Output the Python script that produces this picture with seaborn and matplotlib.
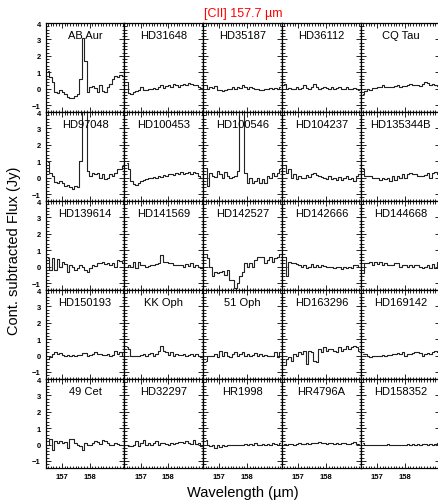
import numpy as np
import pandas as pd
import matplotlib
matplotlib.use("Agg")
import matplotlib.pyplot as plt
import seaborn as sns
from matplotlib.ticker import MultipleLocator, FixedLocator

sns.set_style("ticks")
plt.rcParams['font.family'] = ['Liberation Sans', 'DejaVu Sans']
plt.rcParams['text.color'] = 'black'
plt.rcParams['xtick.color'] = 'black'
plt.rcParams['ytick.color'] = 'black'

# wavelength grid (micron)
wave = [156.50, 156.59, 156.68, 156.77, 156.86, 156.95, 157.04, 157.13, 157.22, 157.31,
        157.40, 157.49, 157.58, 157.67, 157.76, 157.85, 157.94, 158.03, 158.12, 158.21,
        158.30, 158.39, 158.48, 158.57, 158.66, 158.75, 158.84, 158.93, 159.02, 159.11, 159.20]

names = ["AB Aur", "HD31648", "HD35187", "HD36112", "CQ Tau",
         "HD97048", "HD100453", "HD100546", "HD104237", "HD135344B",
         "HD139614", "HD141569", "HD142527", "HD142666", "HD144668",
         "HD150193", "KK Oph", "51 Oph", "HD163296", "HD169142",
         "49 Cet", "HD32297", "HR1998", "HR4796A", "HD158352"]

ab_aur = [1.1, 0.7, 0.4, -0.2, -0.25, -0.1, -0.2, -0.35, -0.5, -0.55, -0.6, -0.45, -0.3, 0.6, 3.1, 1.7,
          -0.2, 0.1, 0.15, 0.05, -0.2, 0.2, -0.15, -0.2, 0.1, 0.3, 0.6, 0.75, 0.7, 0.85, 0.75]
hd31648 = [0.4, -0.25, -0.3, -0.2, -0.15, -0.1, 0.1, -0.1, -0.1, -0.05, 0.0, 0.05, -0.05, 0.1, 0.2, 0.05,
           0.15, 0.25, 0.1, 0.3, 0.2, 0.1, 0.25, 0.3, 0.2, 0.35, 0.3, 0.25, 0.2, 0.1, 0.05]
hd35187 = [0.2, 0.0, 0.1, 0.05, 0.15, -0.1, -0.1, -0.15, -0.1, -0.05, 0.0, 0.1, -0.05, 0.1, 0.05, 0.2,
           0.1, 0.0, 0.1, 0.05, -0.05, 0.0, -0.1, -0.1, -0.05, -0.05, 0.05, -0.05, 0.05, 0.0, 0.1]
hd36112 = [0.3, 0.0, 0.05, -0.05, 0.0, 0.1, 0.0, 0.05, 0.25, 0.05, 0.0, 0.1, 0.3, 0.1, 0.0, 0.05,
           0.1, 0.05, 0.0, 0.1, -0.05, 0.05, 0.1, -0.05, 0.0, 0.1, 0.0, -0.05, 0.05, -0.05, -0.1]
cq_tau = [-0.3, -0.15, 0.0, -0.1, 0.05, 0.05, 0.1, 0.1, 0.2, 0.1, 0.1, 0.1, 0.1, 0.15, 0.25, 0.1,
          0.15, 0.15, 0.2, 0.3, 0.2, 0.25, 0.2, 0.15, 0.3, 0.4, 0.35, 0.2, 0.3, 0.25, 0.15]

hd97048 = [0.95, 0.3, 0.1, -0.25, -0.3, -0.2, -0.3, -0.5, -0.45, -0.6, -0.7, -0.5, -0.6, 1.0, 6.0, 5.0,
           0.4, 0.1, 0.3, 0.2, 0.3, 0.0, 0.2, -0.1, 0.0, 0.2, 0.1, 0.3, 0.5, 0.55, 0.7]
hd100453 = [0.9, 0.5, -0.2, -0.4, -0.45, -0.3, -0.2, -0.15, -0.1, 0.0, -0.05, 0.05, 0.0, 0.1, 0.05, 0.15,
            0.1, 0.2, 0.25, 0.15, 0.3, 0.2, 0.35, 0.25, 0.3, 0.35, 0.25, 0.35, 0.3, 0.1, 0.0]
hd100546 = [0.6, -0.5, 0.3, 0.1, 0.05, 0.4, 0.2, 0.0, 0.35, 0.1, 0.0, 0.05, 0.1, 0.4, 5.5, 4.8,
            0.3, -0.3, 0.0, -0.3, -0.2, 0.0, -0.3, -0.1, -0.3, 0.1, 0.0, 0.3, 0.1, 0.3, 0.5]
hd104237 = [0.8, 0.3, 0.5, 0.0, 0.2, -0.1, 0.1, 0.0, 0.0, 0.15, 0.05, 0.2, 0.3, 0.15, 0.1, 0.05,
            0.0, -0.1, 0.1, -0.1, 0.0, -0.15, 0.05, -0.15, 0.0, 0.1, -0.1, 0.0, -0.2, 0.1, 0.2]
hd135344b = [0.5, 0.1, 0.1, 0.1, 0.0, 0.0, -0.05, -0.15, 0.0, -0.1, 0.0, -0.2, 0.1, -0.15, 0.1, 0.0,
             0.2, 0.0, 0.2, 0.3, 0.2, 0.25, 0.1, 0.1, 0.1, 0.15, 0.3, 0.0, 0.3, 0.35, 0.25]

hd139614 = [0.5, -0.2, 0.5, -0.2, 0.45, 0.0, 0.3, 0.15, -0.3, 0.1, 0.0, -0.2, -0.1, 0.1, 0.0, -0.2,
            -0.3, -0.1, 0.1, 0.05, 0.25, 0.2, 0.3, 0.15, 0.2, 0.1, 0.2, 0.0, 0.4, 0.35, 0.2]
hd141569 = [0.0, 0.1, 0.0, 0.3, -0.1, 0.3, 0.1, 0.1, 0.0, 0.05, 0.1, 0.1, 0.15, 0.2, 0.7, 0.3,
            0.3, 0.2, 0.2, 0.1, 0.1, 0.1, 0.1, 0.0, 0.15, 0.05, 0.2, 0.0, 0.1, 0.0, -0.1]
hd142527 = [0.8, 0.5, 0.0, -0.6, -0.3, -0.4, -0.3, -0.25, -0.5, -0.2, -0.8, -0.8, -1.3, -1.0, -0.6, -0.3,
            0.2, 0.0, 0.2, 0.0, 0.4, 0.6, 0.6, 0.6, 0.2, 0.4, 0.6, 0.3, 0.5, 0.6, 0.8]
hd142666 = [0.6, -0.6, 0.3, 0.2, 0.2, 0.15, 0.1, 0.0, 0.1, -0.1, 0.0, 0.15, 0.0, 0.1, -0.05, 0.1,
            0.05, 0.0, -0.05, 0.0, -0.1, -0.05, 0.0, -0.15, 0.0, -0.1, -0.05, -0.1, 0.1, 0.1, 0.0]
hd144668 = [-0.4, 0.2, 0.2, 0.3, 0.1, 0.3, 0.15, 0.3, 0.1, 0.2, 0.1, 0.1, 0.1, 0.2, 0.2, 0.0,
            0.1, 0.1, 0.0, 0.1, 0.0, 0.1, 0.1, 0.0, -0.1, 0.0, 0.1, -0.1, 0.15, -0.1, 0.3]

hd150193 = [-0.2, -0.1, 0.1, 0.2, 0.1, 0.15, 0.05, 0.0, 0.05, -0.05, 0.05, 0.0, 0.05, 0.05, 0.15, 0.15,
            0.0, 0.05, 0.1, 0.25, 0.1, 0.1, 0.05, 0.05, 0.1, 0.0, 0.05, 0.3, 0.1, 0.2, 0.0]
kk_oph = [0.5, 0.4, 0.0, -0.05, 0.0, 0.0, 0.05, 0.1, 0.0, 0.1, 0.15, 0.0, 0.1, 0.3, 0.6, 0.3,
          0.2, 0.05, 0.2, 0.0, 0.1, 0.05, 0.05, 0.1, 0.0, 0.05, 0.1, 0.0, 0.1, 0.0, -0.1]
oph51 = [-0.3, 0.0, -0.05, 0.0, 0.1, -0.1, 0.3, 0.0, 0.2, 0.0, -0.1, 0.1, 0.2, 0.0, 0.1, 0.2,
         -0.05, 0.1, 0.0, 0.05, 0.15, -0.05, 0.1, 0.0, 0.05, 0.0, -0.05, 0.0, 0.2, -0.1, 0.2]
hd163296 = [-0.6, -0.2, -0.1, -0.3, 0.1, 0.0, 0.2, 0.1, 0.3, -0.5, 0.3, 0.2, -0.3, -0.4, 0.4, 0.2,
            0.5, 0.3, 0.4, 0.4, 0.3, 0.2, 0.5, 0.3, 0.4, 0.6, 0.4, 0.5, 0.6, 0.5, 0.3]
hd169142 = [0.1, 0.1, -0.05, -0.1, 0.0, 0.0, -0.05, 0.0, 0.05, 0.0, 0.05, 0.05, 0.1, 0.1, 0.15, 0.1,
            0.2, 0.0, 0.1, 0.1, 0.15, 0.2, 0.25, 0.15, 0.0, 0.1, 0.15, 0.1, 0.25, 0.3, 0.25]

cet49 = [0.0, 0.35, -0.3, 0.2, 0.1, 0.2, 0.1, 0.15, -0.2, 0.35, 0.35, 0.1, 0.0, -0.1, -0.3, 0.1,
         0.0, 0.0, 0.1, 0.2, 0.15, 0.05, 0.3, 0.2, 0.1, 0.0, 0.0, 0.1, 0.05, 0.0, 0.0]
hd32297 = [0.0, -0.1, -0.1, 0.0, 0.2, -0.1, 0.1, 0.3, 0.0, 0.1, 0.0, 0.1, 0.2, 0.0, 0.1, 0.1,
           0.05, 0.0, 0.1, 0.05, 0.1, 0.15, 0.15, 0.1, 0.2, 0.1, 0.05, 0.25, 0.05, 0.1, -0.1]
hr1998 = [0.3, -0.05, -0.1, -0.05, -0.2, 0.0, -0.15, -0.05, -0.1, 0.0, -0.05, -0.05, 0.0, -0.05, 0.0, 0.0,
          0.05, -0.05, 0.05, 0.0, 0.1, -0.05, 0.0, 0.05, 0.0, 0.05, 0.0, 0.1, 0.05, 0.0, 0.1]
hr4796a = [0.05, 0.0, 0.05, 0.05, 0.0, 0.05, 0.1, 0.05, 0.05, 0.1, 0.05, 0.1, 0.1, 0.1, 0.15, 0.1,
           0.1, 0.05, 0.1, 0.1, 0.05, 0.1, 0.05, 0.1, 0.1, 0.05, 0.05, 0.1, 0.15, 0.05, 0.05]
hd158352 = [0.1, 0.0, -0.05, -0.05, -0.05, 0.0, -0.05, 0.0, -0.05, 0.0, 0.05, 0.0, -0.05, 0.0, 0.0, -0.05,
            -0.05, 0.0, 0.05, 0.0, 0.05, 0.0, 0.05, -0.05, 0.05, 0.05, 0.0, 0.05, -0.05, 0.05, 0.1]

spectra = [ab_aur, hd31648, hd35187, hd36112, cq_tau,
           hd97048, hd100453, hd100546, hd104237, hd135344b,
           hd139614, hd141569, hd142527, hd142666, hd144668,
           hd150193, kk_oph, oph51, hd163296, hd169142,
           cet49, hd32297, hr1998, hr4796a, hd158352]

xticks = [157, 158]

fig, axes = plt.subplots(5, 5, figsize=(4.38, 5.02), dpi=100, sharex=True, sharey=True)
fig.subplots_adjust(left=0.1043, right=1.004, top=0.952, bottom=0.0657, wspace=0, hspace=0)

for i, ax in enumerate(axes.flat):
    df = pd.DataFrame({"wave": wave, "flux": spectra[i]})
    sns.lineplot(data=df, x="wave", y="flux", ax=ax, color="#222222", linewidth=0.8,
                 drawstyle="steps-mid", estimator=None)
    ax.set_xlim(156.42, 159.26)
    ax.set_ylim(-1.43, 4.0)
    ax.set_xlabel("")
    ax.set_ylabel("")
    ax.text(0.5, 0.865, names[i], transform=ax.transAxes, ha="center", va="center", fontsize=8)
    ax.xaxis.set_major_locator(FixedLocator(xticks))
    ax.xaxis.set_minor_locator(MultipleLocator(0.1))
    ax.yaxis.set_major_locator(MultipleLocator(1))
    ax.yaxis.set_minor_locator(MultipleLocator(0.2))
    ax.tick_params(which="both", direction="in", top=True, right=True, width=0.6)
    ax.tick_params(which="major", length=3.5, labelsize=5.5)
    ax.tick_params(which="minor", length=1.8)
    for s in ax.spines.values():
        s.set_linewidth(0.9)
        s.set_color("black")
    for lab in ax.get_xticklabels() + ax.get_yticklabels():
        lab.set_fontweight("bold")

fig.text(0.555, 0.972, "[CII] 157.7 \u00b5m", color="red", ha="center", va="center", fontsize=9)
fig.text(0.032, 0.5, "Cont. subtracted Flux (Jy)", rotation=90, ha="center", va="center", fontsize=10.5)
fig.text(0.555, 0.018, "Wavelength (\u00b5m)", ha="center", va="center", fontsize=10.5)

fig.savefig("out.png", dpi=100)
